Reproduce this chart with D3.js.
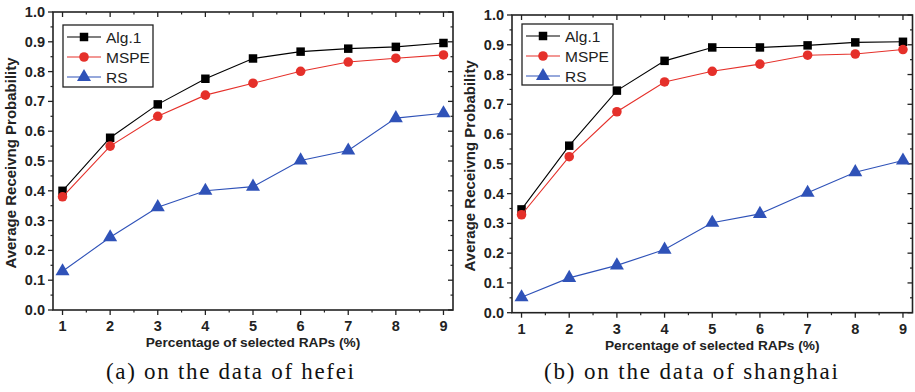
<!DOCTYPE html>
<html>
<head>
<meta charset="utf-8">
<script src="https://cdn.jsdelivr.net/npm/d3@7"></script>
<style>
  body { margin: 0; background: #fff; }
  svg { display: block; }
</style>
</head>
<body>
<div id="chart"></div>
<script>
var width = 915;
var height = 392;

// data
var percents = [1, 2, 3, 4, 5, 6, 7, 8, 9];
var xTicks = [1, 2, 3, 4, 5, 6, 7, 8, 9];
var yTicks = [0, 0.1, 0.2, 0.3, 0.4, 0.5, 0.6, 0.7, 0.8, 0.9, 1.0];

var hefeiAlg1 = [0.40, 0.578, 0.690, 0.776, 0.844, 0.867, 0.877, 0.883, 0.896];
var hefeiMSPE = [0.38, 0.550, 0.650, 0.721, 0.761, 0.801, 0.832, 0.845, 0.856];
var hefeiRS = [0.13, 0.244, 0.345, 0.400, 0.414, 0.502, 0.535, 0.644, 0.660];

var shanghaiAlg1 = [0.347, 0.561, 0.746, 0.846, 0.891, 0.891, 0.898, 0.908, 0.910];
var shanghaiMSPE = [0.329, 0.524, 0.675, 0.775, 0.811, 0.835, 0.865, 0.869, 0.884];
var shanghaiRS = [0.052, 0.117, 0.159, 0.212, 0.302, 0.332, 0.403, 0.472, 0.511];

var seriesNames = ["Alg.1", "MSPE", "RS"];
var seriesColors = ["#000000", "#e5302a", "#2f52b8"];
var seriesShapes = [d3.symbolSquare, d3.symbolCircle, d3.symbolTriangle];
var shapeSizes = [72, 72, 85];

var panels = [
  { left: 53, right: 453, top: 12, bottom: 310, caption: "(a) on the data of hefei", capX: 230, capW: 248,
    series: [hefeiAlg1, hefeiMSPE, hefeiRS], legend: { x: 63, y: 25, w: 90, h: 62 } },
  { left: 512, right: 912.5, top: 15, bottom: 312.7, caption: "(b) on the data of shanghai", capX: 691, capW: 294,
    series: [shanghaiAlg1, shanghaiMSPE, shanghaiRS], legend: { x: 522, y: 24, w: 91, h: 61 } }
];

var svg = d3
  .select("#chart")
  .append("svg")
  .attr("width", width)
  .attr("height", height);

panels.forEach(function(p) {
  var x = d3.scaleLinear().domain([0.8, 9.2]).range([p.left, p.right]);
  var y = d3.scaleLinear().domain([0, 1]).range([p.bottom, p.top]);
  var g = svg.append("g");

  // minor ticks
  var xMinor = d3.range(1.5, 9, 1);
  var yMinor = d3.range(0.05, 1, 0.1);

  g.selectAll(".xminb").data(xMinor).enter().append("line")
    .attr("x1", function(d) { return x(d); }).attr("x2", function(d) { return x(d); })
    .attr("y1", p.bottom).attr("y2", p.bottom + 2.5)
    .attr("stroke", "#222").attr("stroke-width", 1.2);
  g.selectAll(".xmint").data(xMinor).enter().append("line")
    .attr("x1", function(d) { return x(d); }).attr("x2", function(d) { return x(d); })
    .attr("y1", p.top).attr("y2", p.top + 2.5)
    .attr("stroke", "#222").attr("stroke-width", 1.2);
  g.selectAll(".yminl").data(yMinor).enter().append("line")
    .attr("y1", function(d) { return y(d); }).attr("y2", function(d) { return y(d); })
    .attr("x1", p.left).attr("x2", p.left - 2.5)
    .attr("stroke", "#222").attr("stroke-width", 1.2);
  g.selectAll(".yminr").data(yMinor).enter().append("line")
    .attr("y1", function(d) { return y(d); }).attr("y2", function(d) { return y(d); })
    .attr("x1", p.right).attr("x2", p.right - 2.5)
    .attr("stroke", "#222").attr("stroke-width", 1.2);

  // major ticks
  g.selectAll(".xmajb").data(xTicks).enter().append("line")
    .attr("x1", function(d) { return x(d); }).attr("x2", function(d) { return x(d); })
    .attr("y1", p.bottom).attr("y2", p.bottom + 5)
    .attr("stroke", "#222").attr("stroke-width", 1.3);
  g.selectAll(".xmajt").data(xTicks).enter().append("line")
    .attr("x1", function(d) { return x(d); }).attr("x2", function(d) { return x(d); })
    .attr("y1", p.top).attr("y2", p.top + 5)
    .attr("stroke", "#222").attr("stroke-width", 1.3);
  g.selectAll(".ymajl").data(yTicks).enter().append("line")
    .attr("y1", function(d) { return y(d); }).attr("y2", function(d) { return y(d); })
    .attr("x1", p.left).attr("x2", p.left - 5)
    .attr("stroke", "#222").attr("stroke-width", 1.3);
  g.selectAll(".ymajr").data(yTicks).enter().append("line")
    .attr("y1", function(d) { return y(d); }).attr("y2", function(d) { return y(d); })
    .attr("x1", p.right).attr("x2", p.right - 5)
    .attr("stroke", "#222").attr("stroke-width", 1.3);

  // frame
  g.append("rect")
    .attr("x", p.left).attr("y", p.top)
    .attr("width", p.right - p.left).attr("height", p.bottom - p.top)
    .attr("fill", "none").attr("stroke", "#222").attr("stroke-width", 1.6);

  // tick labels
  g.selectAll(".xlab").data(xTicks).enter().append("text")
    .attr("x", function(d) { return x(d); })
    .attr("y", p.bottom + 21)
    .attr("text-anchor", "middle")
    .attr("font-family", "Liberation Sans, Arial, sans-serif")
    .attr("font-weight", "bold").attr("font-size", "14.5px")
    .attr("fill", "#222")
    .text(function(d) { return d; });
  g.selectAll(".ylab").data(yTicks).enter().append("text")
    .attr("x", p.left - 8)
    .attr("y", function(d) { return y(d) + 5; })
    .attr("text-anchor", "end")
    .attr("font-family", "Liberation Sans, Arial, sans-serif")
    .attr("font-weight", "bold").attr("font-size", "14.5px")
    .attr("fill", "#222")
    .text(function(d) { return d.toFixed(1); });

  // axis titles
  g.append("text")
    .attr("x", (p.left + p.right) / 2)
    .attr("y", p.bottom + 37)
    .attr("text-anchor", "middle")
    .attr("font-family", "Liberation Sans, Arial, sans-serif")
    .attr("font-weight", "bold").attr("font-size", "13.7px")
    .attr("fill", "#222")
    .text("Percentage of selected RAPs (%)");
  g.append("text")
    .attr("transform", "translate(" + (p.left - 37.5) + "," + ((p.top + p.bottom) / 2 + 2) + ") rotate(-90)")
    .attr("text-anchor", "middle")
    .attr("font-family", "Liberation Sans, Arial, sans-serif")
    .attr("font-weight", "bold").attr("font-size", "15px")
    .attr("fill", "#222")
    .text("Average Receivng Probability");

  // caption
  g.append("text")
    .attr("x", p.capX - p.capW / 2).attr("y", 379)
    .attr("textLength", p.capW)
    .attr("lengthAdjust", "spacing")
    .attr("font-family", "Liberation Serif, DejaVu Serif, serif")
    .attr("font-size", "23px")
    .attr("fill", "#111")
    .text(p.caption);

  // series
  var line = d3.line()
    .x(function(d, i) { return x(percents[i]); })
    .y(function(d) { return y(d); });

  p.series.forEach(function(vals, k) {
    g.append("path")
      .datum(vals)
      .attr("d", line)
      .attr("fill", "none")
      .attr("stroke", seriesColors[k])
      .attr("stroke-width", 1.1);
    g.selectAll(".m" + k).data(vals).enter().append("path")
      .attr("d", d3.symbol().type(seriesShapes[k]).size(shapeSizes[k]))
      .attr("transform", function(d, i) {
        return "translate(" + x(percents[i]) + "," + y(d) + ")";
      })
      .attr("fill", seriesColors[k]);
  });

  // legend
  var L = p.legend;
  g.append("rect")
    .attr("x", L.x).attr("y", L.y).attr("width", L.w).attr("height", L.h)
    .attr("fill", "#fff").attr("stroke", "#222").attr("stroke-width", 1.3);
  seriesNames.forEach(function(name, k) {
    var ly = L.y + 12 + k * 20;
    g.append("line")
      .attr("x1", L.x + 4).attr("x2", L.x + 38)
      .attr("y1", ly).attr("y2", ly)
      .attr("stroke", seriesColors[k]).attr("stroke-width", 1.1);
    g.append("path")
      .attr("d", d3.symbol().type(seriesShapes[k]).size(shapeSizes[k]))
      .attr("transform", "translate(" + (L.x + 21) + "," + ly + ")")
      .attr("fill", seriesColors[k]);
    g.append("text")
      .attr("x", L.x + 43).attr("y", ly + 5.5)
      .attr("font-family", "Liberation Sans, Arial, sans-serif")
      .attr("font-size", "15.5px")
      .attr("fill", "#222")
      .text(name);
  });
});
</script>
</body>
</html>
